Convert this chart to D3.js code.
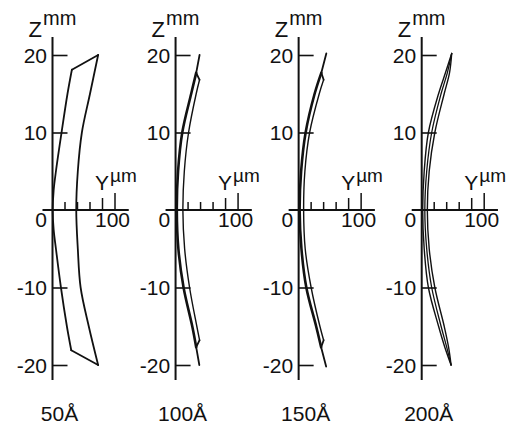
<!DOCTYPE html>
<html>
<head>
<meta charset="utf-8">
<script src="https://cdn.jsdelivr.net/npm/d3@7"></script>
<style>
  html, body { margin: 0; padding: 0; background: #fff; }
  svg { display: block; }
  text { font-family: "Liberation Sans", Arial, Helvetica, sans-serif; fill: #111; }
</style>
</head>
<body>
<svg id="chart" width="513" height="434"></svg>
<script>
// ---------------- data ----------------
const panelLabels = ["50Å", "100Å", "150Å", "200Å"];
const zTicks = [20, 10, -10, -20];
const zTickLabels = ["20", "10", "-10", "-20"];
const yTicks = [20, 40, 60, 80, 100];
const yTickLabels = ["0", "100"];

// Panel 50Å : [Y µm, Z mm]
const p50Right = [[73,20],[60,15],[47,10],[40.5,5],[38,0],[40.5,-5],[45,-10],[58,-15],[73,-20]];
const p50Left  = [[31,18.1],[24,15],[14.5,10],[5.5,5],[1.8,2.5],[0.3,0],[1.8,-2.5],[5.5,-5],[13.5,-10],[23,-15],[30,-18.1]];
const p50Top    = [[31,18.1],[73,20]];
const p50Bottom = [[30,-18.1],[73,-20]];

// Panel 100Å
const p100Left  = [[33,17.7],[25,15],[10.7,10],[4,5],[2,0],[4.5,-5],[12.8,-10],[26.7,-15],[33,-17.7]];
const p100Right = [[38.4,16.8],[33,15],[20.8,10],[14,5],[11.7,0],[14.5,-5],[22.4,-10],[34,-15],[38.4,-16.8]];
const p100TopTail    = [[38.4,20],[33,17.7],[38.4,16.8]];
const p100BottomTail = [[38.4,-16.8],[33,-17.7],[38,-20]];

// Panel 150Å
const p150Left  = [[36.3,17.7],[25.6,15],[11.2,10],[4,5],[1.6,0],[4.5,-5],[12.3,-10],[28,-15],[36,-17.7]];
const p150Right = [[40,16.8],[33,15],[17.6,10],[10,5],[8,0],[10.5,-5],[20,-10],[34,-15],[40,-16.8]];
const p150TopTail    = [[44.3,20.2],[36.3,17.7],[40,16.8]];
const p150BottomTail = [[40,-16.8],[36,-17.7],[44,-20.2]];

// Panel 200Å
const p200A = [[48,20.2],[38,17.7],[27,15],[10.7,10],[4,5],[1.6,0],[4,-5],[10.7,-10],[27,-15],[37,-17.7],[47,-20]];
const p200B = [[48,20.2],[41,17.7],[31,15],[16,10],[8,5],[5,0],[8,-5],[16,-10],[31,-15],[40,-17.7],[47,-20]];
const p200C = [[48,20.2],[44.5,17.7],[36,15],[21,10],[12,5],[9,0],[12,-5],[21,-10],[36,-15],[43,-17.7],[47,-20]];

const panelCurves = [
  [ {pts:p50Right, smooth:true, w:1.8}, {pts:p50Left, smooth:true, w:1.8},
    {pts:p50Top, smooth:false, w:1.8}, {pts:p50Bottom, smooth:false, w:1.8} ],
  [ {pts:p100Left, smooth:true, w:2.6}, {pts:p100Right, smooth:true, w:1.4},
    {pts:p100TopTail, smooth:false, w:1.8}, {pts:p100BottomTail, smooth:false, w:1.8} ],
  [ {pts:p150Left, smooth:true, w:2.6}, {pts:p150Right, smooth:true, w:1.4},
    {pts:p150TopTail, smooth:false, w:1.8}, {pts:p150BottomTail, smooth:false, w:1.8} ],
  [ {pts:p200A, smooth:true, w:1.4}, {pts:p200B, smooth:true, w:1.3}, {pts:p200C, smooth:true, w:1.4} ]
];

// ---------------- drawing ----------------
const svg = d3.select("#chart");
const ink = "#111";

const panelX = d3.scalePoint().domain(panelLabels).range([52.5, 421.7]);
const y = d3.scaleLinear().domain([0, 100]).range([0, 62.5]);   // Y µm -> local x offset
const z = d3.scaleLinear().domain([-20, 20]).range([365, 55]);   // Z mm -> page y

const smoothLine = d3.line().x(d => y(d[0])).y(d => z(d[1])).curve(d3.curveCatmullRom.alpha(0.5));
const straightLine = d3.line().x(d => y(d[0])).y(d => z(d[1]));

panelLabels.forEach((lab, i) => {
  const g = svg.append("g").attr("transform", `translate(${panelX(lab)},0)`);

  // vertical Z axis
  g.append("line").attr("x1", 0).attr("x2", 0).attr("y1", 37).attr("y2", 380)
    .attr("stroke", ink).attr("stroke-width", 2);
  const zAxis = d3.axisRight(z).tickValues(zTicks).tickSize(15).tickFormat("");
  const za = g.append("g").call(zAxis);
  za.select(".domain").remove();
  za.selectAll(".tick line").attr("stroke", ink).attr("stroke-width", 1.6);

  g.selectAll("text.zl").data(zTicks).join("text").attr("class", "zl")
    .attr("x", -5.5).attr("y", d => z(d) + 7.5)
    .attr("text-anchor", "end").attr("font-size", 21)
    .text((d, k) => zTickLabels[k]);

  // horizontal Y axis
  g.append("line").attr("x1", y(-16)).attr("x2", y(122)).attr("y1", z(0)).attr("y2", z(0))
    .attr("stroke", ink).attr("stroke-width", 1.8);
  const tickLen = {20: 8, 40: 8, 60: 8, 80: 12, 100: 17};
  g.selectAll("line.yt").data(yTicks).join("line").attr("class", "yt")
    .attr("x1", d => y(d)).attr("x2", d => y(d))
    .attr("y1", z(0)).attr("y2", d => z(0) - tickLen[d])
    .attr("stroke", ink).attr("stroke-width", 1.5);

  g.append("text").attr("x", -5.5).attr("y", 227).attr("text-anchor", "end")
    .attr("font-size", 21).text(yTickLabels[0]);
  g.append("text").attr("x", y(96)).attr("y", 227).attr("text-anchor", "middle")
    .attr("font-size", 21).text(yTickLabels[1]);

  // axis titles
  g.append("text").attr("x", -24).attr("y", 37).attr("font-size", 22).text("Z");
  g.append("text").attr("x", -9.5).attr("y", 25).attr("font-size", 20).text("mm");
  g.append("text").attr("x", 42.5).attr("y", 190).attr("font-size", 21).text("Y");
  g.append("text").attr("x", 57.5).attr("y", 182).attr("font-size", 19).text("µm");

  // curves
  panelCurves[i].forEach(c => {
    g.append("path").attr("d", (c.smooth ? smoothLine : straightLine)(c.pts))
      .attr("fill", "none").attr("stroke", ink).attr("stroke-width", c.w)
      .attr("stroke-linejoin", "round").attr("stroke-linecap", "round");
  });

  // panel label
  g.append("text").attr("x", 7).attr("y", 421).attr("text-anchor", "middle")
    .attr("font-size", 21).text(lab);
});
</script>
</body>
</html>
